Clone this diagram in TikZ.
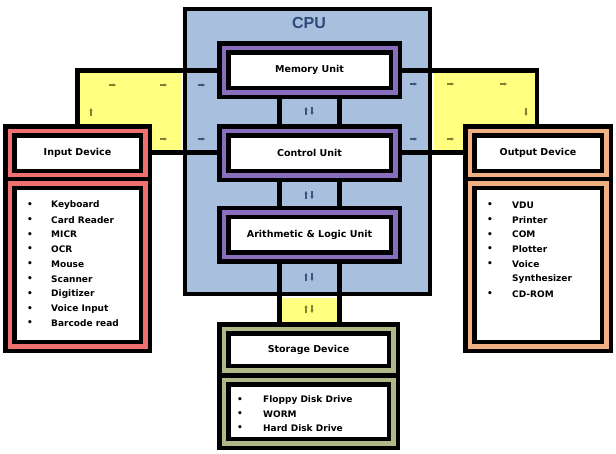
\documentclass[tikz,border=0pt]{standalone}
\usepackage{fontspec}
\setmainfont{DejaVu Sans}
\newfontfamily\cpufont{Liberation Sans}
\usetikzlibrary{arrows.meta}
\pgfdeclarelayer{bglayer}
\pgfdeclarelayer{connlayer}
\pgfsetlayers{bglayer,connlayer,main}
\definecolor{cpublue}{RGB}{168,192,222}
\definecolor{unitpurple}{RGB}{138,110,190}
\definecolor{connyellow}{RGB}{255,255,128}
\definecolor{inred}{RGB}{240,112,112}
\definecolor{outpeach}{RGB}{240,176,130}
\definecolor{storolive}{RGB}{176,184,136}
\definecolor{cputext}{RGB}{46,74,122}
\definecolor{arrblue}{RGB}{60,85,125}
\definecolor{arrolive}{RGB}{130,130,50}
\begin{document}
\begin{tikzpicture}[x=1pt,y=-1pt,
  tribox/.style={draw=black, line width=4.5pt, double=#1, double distance=4.5pt,
                 fill=white, rectangle, inner sep=0pt},
  hdr/.style={font=\bfseries\fontsize{9.5}{11}\selectfont, text=black},
  item/.style={font=\bfseries\fontsize{9}{11}\selectfont, anchor=west, inner sep=0pt},
  bul/.style={font=\bfseries\fontsize{9}{11}\selectfont, inner sep=0pt},
  wire/.style={line width=4.5pt},
  smallarr/.style={-{Stealth[length=3pt,width=3.2pt]}, line width=1.1pt, draw=#1}
]
\useasboundingbox (0,0) rectangle (616,453);

% CPU
\begin{pgfonlayer}{bglayer}
\node[draw=black, line width=4pt, fill=cpublue, minimum width=245, minimum height=285,
      inner sep=0pt] (cpu) at (307.5,151.5) {};
\end{pgfonlayer}
\node[font=\cpufont\bfseries\fontsize{16}{18}\selectfont, text=cputext] (cputitle) at (309,23) {CPU};

% units
\node[tribox=unitpurple, minimum width=171.5, minimum height=44.5, hdr] (memory) at (309.5,70) {Memory Unit};
\node[tribox=unitpurple, minimum width=171.5, minimum height=44.5, hdr] (control) at (309.5,153) {Control Unit};
\node[tribox=unitpurple, minimum width=171.5, minimum height=44.5, hdr] (alu) at (309.5,234.5) {Arithmetic \& Logic Unit};

% input device
\node[tribox=inred, minimum width=135.5, minimum height=44.5, hdr] (inhead) at (77.5,153) {Input Device};
\node[tribox=inred, minimum width=135.5, minimum height=162.75] (inlist) at (77.5,264.9) {};
% output device
\node[tribox=outpeach, minimum width=136.5, minimum height=44.5, hdr] (outhead) at (538,153) {Output Device};
\node[tribox=outpeach, minimum width=136.5, minimum height=162.75] (outlist) at (538,264.9) {};
% storage
\node[tribox=storolive, minimum width=169.5, minimum height=41.5, hdr] (sthead) at (308.5,349.5) {Storage Device};
\node[tribox=storolive, minimum width=169.5, minimum height=63.5] (stlist) at (308.5,411.5) {};

% connectors
\begin{pgfonlayer}{connlayer}
\coordinate (lt) at (77.7,70.5);
\coordinate (lb) at (0,152.5);
\coordinate (rt) at (537,70.5);
\fill[connyellow] (lt) rectangle ([xshift=-2pt]cpu.west |- lb);
\fill[connyellow] ([xshift=2pt]cpu.east |- rt) rectangle (rt |- lb);
\draw[wire] (memory.west |- lt) -- (lt) -- (lt |- inhead.north);
\draw[wire] (inhead.east |- lb) -- (control.west |- lb);
\draw[wire] (memory.east |- rt) -- (rt) -- (rt |- outhead.north);
\draw[wire] (control.east |- lb) -- (outhead.west |- lb);
\fill[connyellow] ([xshift=-30pt,yshift=-2pt]alu.south |- cpu.south) rectangle ([xshift=30pt]alu.south |- sthead.north);
\foreach \s in {-30,30} {
  \draw[wire] ([xshift=\s pt]memory.south) -- ([xshift=\s pt]control.north);
  \draw[wire] ([xshift=\s pt]control.south) -- ([xshift=\s pt]alu.north);
  \draw[wire] ([xshift=\s pt]alu.south) -- ([xshift=\s pt]alu.south |- sthead.north);
}
\end{pgfonlayer}

% tiny arrows
\draw[smallarr=arrolive] (109,85) -- (116,85);
\draw[smallarr=arrolive] (160,85) -- (167,85);
\draw[smallarr=arrblue] (198,85) -- (205,85);
\draw[smallarr=arrolive] (91,116) -- (91,108);
\draw[smallarr=arrolive] (160,139) -- (167,139);
\draw[smallarr=arrblue] (198,139) -- (205,139);
\draw[smallarr=arrblue] (410,84) -- (417,84);
\draw[smallarr=arrolive] (447,84) -- (454,84);
\draw[smallarr=arrolive] (500,84) -- (507,84);
\draw[smallarr=arrolive] (526,108) -- (526,116);
\draw[smallarr=arrolive] (447,139) -- (454,139);
\draw[smallarr=arrblue] (410,139) -- (417,139);
\foreach \yy/\cc in {111/arrblue,195/arrblue,277/arrblue,309/arrolive} {
  \draw[smallarr=\cc] (306,\yy+4) -- (306,\yy-4);
  \draw[smallarr=\cc] (312,\yy-4) -- (312,\yy+4);
}

% lists
\foreach \t [count=\i from 0] in {Keyboard,Card Reader,MICR,OCR,Mouse,Scanner,Digitizer,Voice Input,Barcode read} {
  \node[bul] (inb\i) at (30,205+14.8*\i) {•};
  \node[item] (ini\i) at (51,205+14.8*\i) {\t};
}
\foreach \t [count=\i from 0] in {VDU,Printer,COM,Plotter,Voice} {
  \node[bul] (outb\i) at (490,205+14.8*\i) {•};
  \node[item] (outi\i) at (512,205+14.8*\i) {\t};
}
\node[item] (outi5) at (512,279) {Synthesizer};
\node[bul] (outb6) at (490,293.8) {•};
\node[item] (outi6) at (512,293.8) {CD-ROM};
\foreach \t [count=\i from 0] in {Floppy Disk Drive,WORM,Hard Disk Drive} {
  \node[bul] (stb\i) at (240,400+14*\i) {•};
  \node[item] (sti\i) at (263,400+14*\i) {\t};
}
\end{tikzpicture}
\end{document}
